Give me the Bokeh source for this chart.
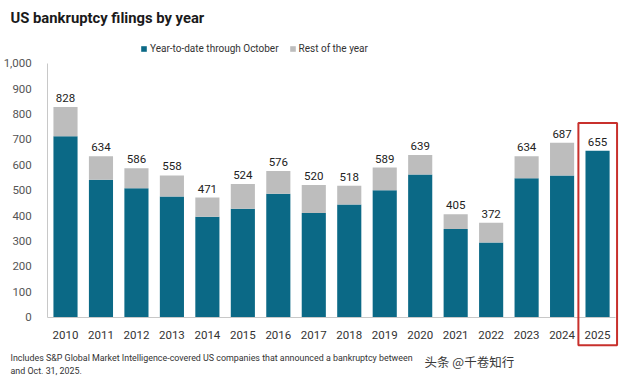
from bokeh.plotting import figure
from bokeh.models import ColumnDataSource, FixedTicker, Legend, LegendItem, BoxAnnotation
from bokeh.core.properties import value
from bokeh.embed import file_html
from bokeh.resources import INLINE

# ---- data ----
years = ["2010", "2011", "2012", "2013", "2014", "2015", "2016", "2017",
         "2018", "2019", "2020", "2021", "2022", "2023", "2024", "2025"]
ytd_oct = [712, 541, 508, 475, 395, 427, 486, 410, 444, 500, 562, 347, 294, 547, 558, 655]
full_year = [828, 634, 586, 558, 471, 524, 576, 520, 518, 589, 639, 405, 372, 634, 687, 655]
y_ticks = [0, 100, 200, 300, 400, 500, 600, 700, 800, 900, 1000]

rest_of_year = [t - y for t, y in zip(full_year, ytd_oct)]
xs = list(range(len(years)))

TEAL = "#0b6986"
GRAY = "#bdbdbd"
FONT = "Roboto"

W, H = 620, 378
PX_X = 35.47      # pixels per category
PX_Y = 0.254      # pixels per unit
x0_px = 65.0      # first bar centre (px from left)
y0_px = 316.7     # y=0 (px from top)

x_start = -x0_px / PX_X
x_end = x_start + W / PX_X
y_end = y0_px / PX_Y
y_start = -(H - y0_px) / PX_Y


def px_x(px):
    return x_start + px / PX_X


def px_y(px):
    return (y0_px - px) / PX_Y


p = figure(width=W, height=H, output_backend="svg", toolbar_location=None,
           x_range=(x_start, x_end), y_range=(y_start, y_end),
           min_border=0, min_border_left=0, min_border_right=0,
           min_border_top=0, min_border_bottom=0)
p.outline_line_color = None
p.grid.visible = False
p.background_fill_color = "white"
p.border_fill_color = "white"

src = ColumnDataSource(dict(x=xs, years=years, ytd=ytd_oct, rest=rest_of_year, total=full_year))
rs = p.vbar_stack(["ytd", "rest"], x="x", width=0.68, source=src,
                  color=[TEAL, GRAY], line_color=None)

# value labels
p.text(x="x", y="total", text="total", source=src, text_align="center",
       text_baseline="bottom", y_offset=-5, text_font=value(FONT),
       text_font_size="11.5px", text_color="#222222")

# axes
p.xaxis.fixed_location = 0
p.xaxis.ticker = FixedTicker(ticks=xs)
p.xaxis.major_label_overrides = {i: y for i, y in zip(xs, years)}
p.xaxis.bounds = (-0.5, len(years) - 0.5)
p.xaxis.axis_line_color = "#c8c8c8"
p.xaxis.major_tick_line_color = None
p.xaxis.minor_tick_line_color = None
p.xaxis.major_label_standoff = 8
p.xaxis.major_label_text_font = FONT
p.xaxis.major_label_text_font_size = "11.5px"
p.xaxis.major_label_text_color = "#333333"

p.yaxis.fixed_location = -0.5
p.yaxis.ticker = FixedTicker(ticks=y_ticks)
p.yaxis.major_label_overrides = {t: f"{t:,}" for t in y_ticks}
p.yaxis.bounds = (0, 1000)
p.yaxis.axis_line_color = "#c8c8c8"
p.yaxis.major_tick_line_color = None
p.yaxis.minor_tick_line_color = None
p.yaxis.major_label_standoff = 10
p.yaxis.major_label_text_font = FONT
p.yaxis.major_label_text_font_size = "11.5px"
p.yaxis.major_label_text_color = "#555555"

# highlight box around the latest year
last = len(years) - 1
p.add_layout(BoxAnnotation(left=last - 0.54, right=last + 0.55,
                           top=full_year[last] + 110, bottom=-110,
                           fill_color=None, fill_alpha=0, line_color="#c8302c",
                           line_alpha=1, line_width=2))

# title, footnote, watermark
p.text(x=[px_x(10)], y=[px_y(17)], text=["US bankruptcy filings by year"],
       text_font=value(FONT), text_font_size="14.8px", text_font_style="bold",
       text_baseline="middle", text_color="#1a1a1a")
p.text(x=[px_x(10)] * 2, y=[px_y(357), px_y(370)],
       text=["Includes S&P Global Market Intelligence-covered US companies that announced a bankruptcy between",
             "and Oct. 31, 2025."],
       text_font=value(FONT), text_font_size="8.9px", text_baseline="middle",
       text_color="#333333")
p.text(x=[px_x(424)], y=[px_y(361)], text=["头条 @千卷知行"],
       text_font=value("Noto Sans CJK SC"), text_font_size="12.5px", text_baseline="middle",
       text_color="#3a3a3a")

legend = Legend(items=[LegendItem(label="Year-to-date through October", renderers=[rs[0]]),
                       LegendItem(label="Rest of the year", renderers=[rs[1]])],
                orientation="horizontal", location=(140, H - 47 - 7),
                label_text_font=FONT, label_text_font_size="10px", label_text_color="#333333",
                glyph_width=7, glyph_height=7, label_standoff=3, spacing=10,
                padding=0, margin=0, border_line_color=None, background_fill_alpha=0)
p.add_layout(legend, "center")

open("out.html", "w").write(file_html(p, INLINE))
